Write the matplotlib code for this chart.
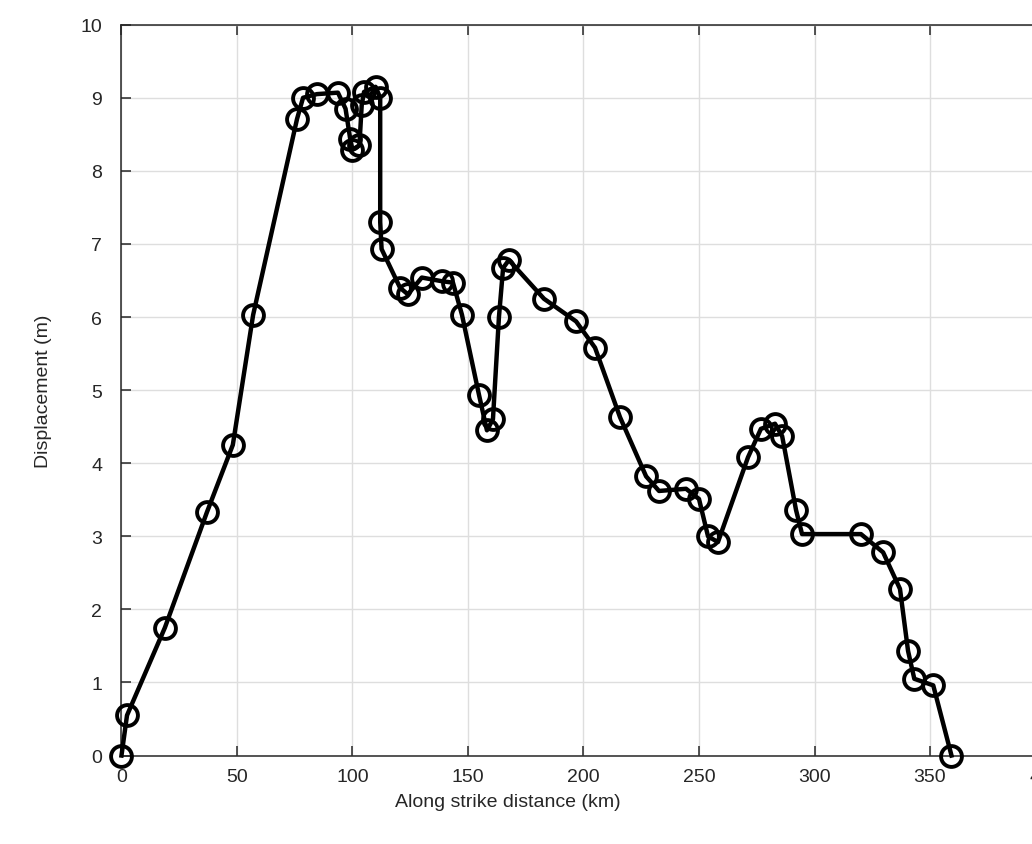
import numpy as np
import matplotlib
matplotlib.use("Agg")
from matplotlib import pyplot as plt

# along strike distance (km) and displacement (m)
DIST = [0, 2.4, 18.8, 37.0, 48.2, 57.0, 76.0, 78.6, 84.6, 93.7,
        97.0, 99.0, 100.0, 103.0, 104.0, 105.0, 110.0, 112.0, 112.0, 112.6,
        120.6, 124.0, 130.0, 138.7, 143.5, 147.4, 154.8, 158.2, 160.8, 163.4,
        165.2, 167.7, 182.9, 196.8, 205.0, 215.8, 227.1, 232.7, 244.4, 250.0,
        253.9, 258.2, 271.2, 276.8, 282.9, 286.0, 292.0, 294.6, 320.1, 329.7,
        337.0, 340.5, 343.2, 351.4, 359.3]
DISP = [0, 0.55, 1.75, 3.33, 4.25, 6.03, 8.71, 9.0, 9.05, 9.07,
        8.85, 8.44, 8.29, 8.35, 8.9, 9.08, 9.15, 9.0, 7.3, 6.93,
        6.4, 6.31, 6.54, 6.49, 6.47, 6.03, 4.93, 4.45, 4.6, 6.0,
        6.67, 6.78, 6.25, 5.94, 5.58, 4.63, 3.82, 3.62, 3.65, 3.51,
        3.0, 2.92, 4.08, 4.47, 4.54, 4.37, 3.36, 3.03, 3.03, 2.78,
        2.28, 1.43, 1.05, 0.96, 0.0]

X_TICKS = [0, 50, 100, 150, 200, 250, 300, 350, 400]
Y_TICKS = list(range(0, 11))

TEXT_COLOR = '#262626'

plt.rcParams['font.family'] = ['Liberation Sans', 'DejaVu Sans']
plt.rcParams['font.size'] = 14

fig = plt.figure(figsize=(10.32, 8.45), dpi=100)
# axes runs past the right edge of the picture, as in the reference
ax = fig.add_axes([0.1177, 0.1047, 0.8954, 0.8649])

ax.plot(DIST, DISP, color='black', linewidth=3.2, marker='o',
        markersize=15, markerfacecolor='none', markeredgecolor='black',
        markeredgewidth=2.8, clip_on=False, zorder=3)

ax.set_xlim(0, 400)
ax.set_ylim(0, 10)
ax.set_xticks(X_TICKS)
ax.set_yticks(Y_TICKS)
ax.grid(True, color='#dedede', linewidth=1.0)
ax.set_axisbelow(True)

for sp in ax.spines.values():
    sp.set_color(TEXT_COLOR)
    sp.set_linewidth(1.1)
ax.tick_params(direction='in', length=7.2, width=1.1, colors=TEXT_COLOR,
               top=True, right=True, labelsize=14)
ax.tick_params(axis='x', pad=9)
ax.tick_params(axis='y', pad=14)

ax.set_xlabel('Along strike distance (km)', color=TEXT_COLOR, fontsize=14)
ax.xaxis.set_label_coords(0.418, -0.051)
ax.set_ylabel('Displacement (m)', color=TEXT_COLOR, fontsize=14)
ax.yaxis.set_label_coords(-0.075, 0.5)

fig.savefig('out.png', dpi=100)
